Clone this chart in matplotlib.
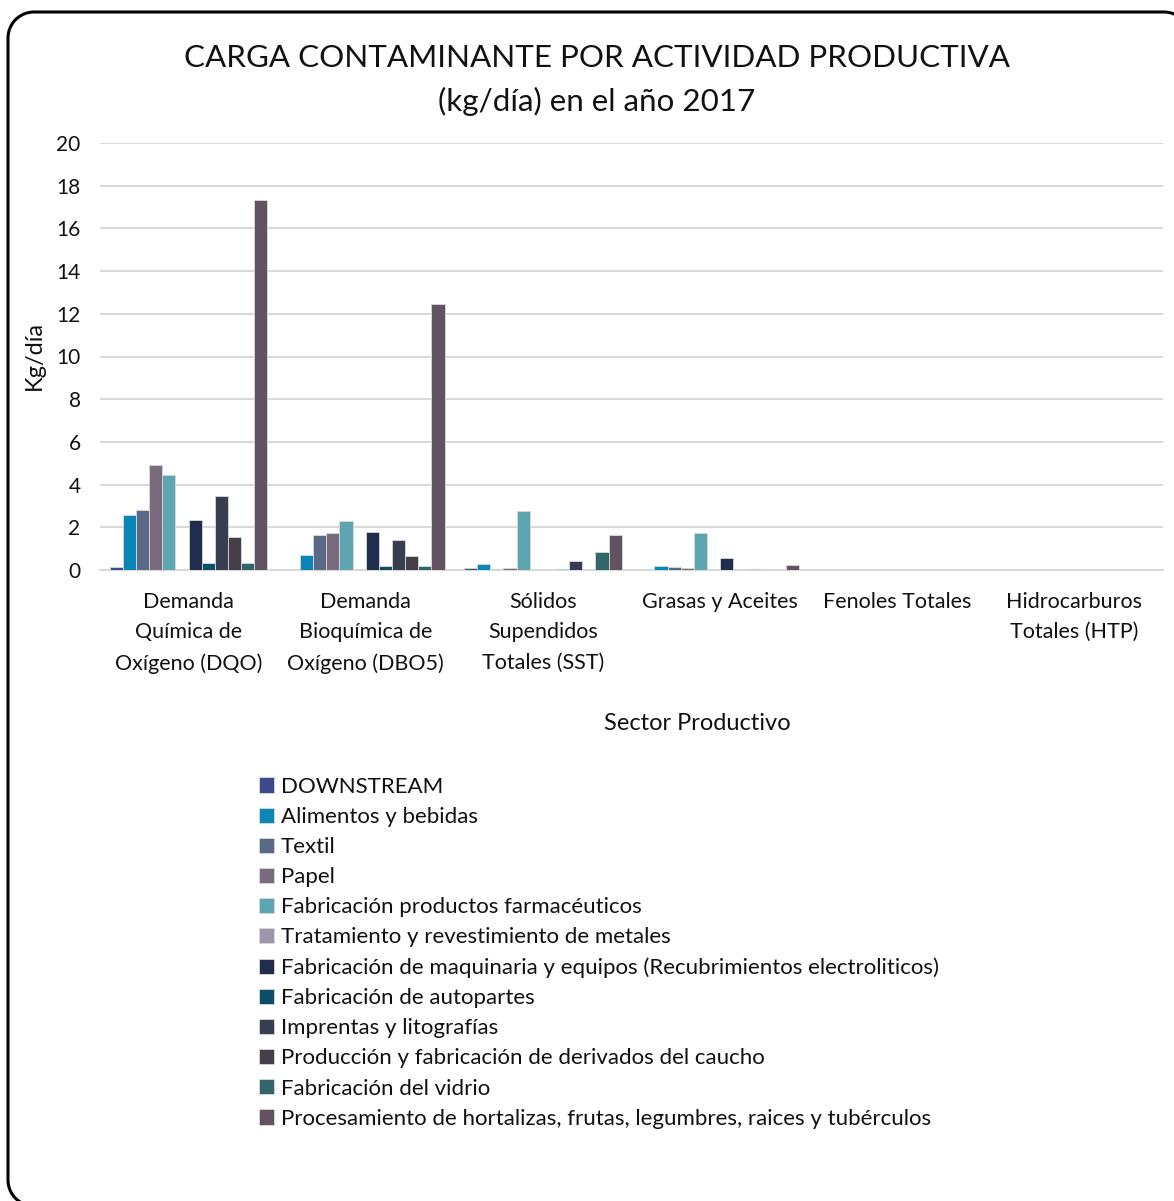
import matplotlib
matplotlib.use('Agg')
from matplotlib import pyplot as plt
from matplotlib.patches import Patch
from matplotlib.lines import Line2D
from matplotlib.transforms import IdentityTransform
import numpy as np

plt.rcParams['font.family'] = ['Lato', 'DejaVu Sans']

parametros = ['Demanda\nQuímica de\nOxígeno (DQO)',
              'Demanda\nBioquímica de\nOxígeno (DBO5)',
              'Sólidos\nSupendidos\nTotales (SST)',
              'Grasas y Aceites',
              'Fenoles Totales',
              'Hidrocarburos\nTotales (HTP)']

sectores = ['DOWNSTREAM',
            'Alimentos y bebidas',
            'Textil',
            'Papel',
            'Fabricación productos farmacéuticos',
            'Tratamiento y revestimiento de metales',
            'Fabricación de maquinaria y equipos (Recubrimientos electroliticos)',
            'Fabricación de autopartes',
            'Imprentas y litografías',
            'Producción y fabricación de derivados del caucho',
            'Fabricación del vidrio',
            'Procesamiento de hortalizas, frutas, legumbres, raices y tubérculos']

# kg/dia por sector, en el orden de parametros
downstream  = [0.15, 0.02, 0.10, 0.00, 0, 0]
alimentos   = [2.57, 0.70, 0.30, 0.19, 0, 0]
textil      = [2.80, 1.64, 0.05, 0.14, 0, 0]
papel       = [4.93, 1.75, 0.08, 0.11, 0, 0]
farmaceut   = [4.47, 2.29, 2.77, 1.75, 0, 0]
metales     = [0.00, 0.00, 0.00, 0.00, 0, 0]
maquinaria  = [2.33, 1.80, 0.02, 0.54, 0, 0]
autopartes  = [0.35, 0.17, 0.05, 0.00, 0, 0]
imprentas   = [3.46, 1.40, 0.40, 0.06, 0, 0]
caucho      = [1.53, 0.66, 0.02, 0.00, 0, 0]
vidrio      = [0.31, 0.17, 0.84, 0.00, 0, 0]
hortalizas  = [17.32, 12.45, 1.64, 0.25, 0, 0]

series = [downstream, alimentos, textil, papel, farmaceut, metales,
          maquinaria, autopartes, imprentas, caucho, vidrio, hortalizas]

colores = ['#3D4B8A', '#0A86B6', '#5A6986', '#7A6A7D', '#5DA5B0', '#A095A8',
           '#212D4F', '#0C4E6A', '#363E50', '#463E4A', '#33666B', '#625363']

W, H = 1174, 1201
fig = plt.figure(figsize=(W / 100, H / 100), dpi=100)


def marco_redondeado(x0, yb, x1, yt, r):
    # contorno con esquinas redondeadas, en pixeles (y hacia arriba)
    t = np.linspace(0, np.pi / 2, 20)
    xs, ys = [], []
    esquinas = [(x1 - r, yt - r, 0), (x0 + r, yt - r, np.pi / 2),
                (x0 + r, yb + r, np.pi), (x1 - r, yb + r, 3 * np.pi / 2)]
    for cx, cy, a in esquinas:
        xs += list(cx + r * np.cos(a + t))
        ys += list(cy + r * np.sin(a + t))
    xs.append(xs[0])
    ys.append(ys[0])
    return xs, ys


mx, my = marco_redondeado(8, H - 1206, 1190, H - 12, 26)
fig.add_artist(Line2D(mx, my, transform=IdentityTransform(), color='black',
                      linewidth=2.2, solid_joinstyle='round', clip_on=False))

ax = fig.add_axes([100 / W, 1 - 570 / H, 1063 / W, 427 / H])

x = np.arange(len(parametros))
n = len(series)
grupo = 0.89
ancho = grupo / n
for i, (valores, color) in enumerate(zip(series, colores)):
    pos = x - grupo / 2 + ancho * (i + 0.5)
    ax.bar(pos, valores, width=ancho, color=color,
           edgecolor='#DADADA', linewidth=0.6, zorder=3)

ax.set_xlim(-0.5, len(parametros) - 0.5)
ax.set_ylim(0, 20)
ax.set_yticks(np.arange(0, 21, 2))
ax.set_xticks(x)
ax.set_xticklabels(parametros, linespacing=1.66)
ax.tick_params(axis='both', length=0, colors='#111111')
ax.tick_params(axis='x', pad=15.5, labelsize=15.5)
ax.tick_params(axis='y', pad=14, labelsize=15)
ax.grid(axis='y', color='#D9D9D9', linewidth=1.5, zorder=0)
for s in ['top', 'right', 'left']:
    ax.spines[s].set_visible(False)
ax.spines['bottom'].set_color('#D9D9D9')
ax.spines['bottom'].set_linewidth(1.5)

fig.text(34 / W, 1 - 356 / H, 'Kg/día', fontsize=17, rotation=90,
         ha='center', va='center', color='#111111')
fig.text(697 / W, 1 - 723 / H, 'Sector Productivo', fontsize=17,
         ha='center', va='center', color='#111111')

fig.text(597 / W, 1 - 80 / H,
         'CARGA CONTAMINANTE POR ACTIVIDAD PRODUCTIVA\n(kg/día) en el año 2017',
         fontsize=22.6, ha='center', va='center', linespacing=1.58,
         color='#111111')

handles = [Patch(facecolor=c, edgecolor='#DADADA', linewidth=0.6) for c in colores]
fig.legend(handles, sectores, loc='upper left',
           bbox_to_anchor=(250 / W, 1 - 768 / H),
           frameon=False, fontsize=16, handlelength=0.68, handleheight=0.68,
           handletextpad=0.3, labelspacing=0.455, borderaxespad=0,
           labelcolor='#111111')

plt.savefig('out.png', dpi=100)
